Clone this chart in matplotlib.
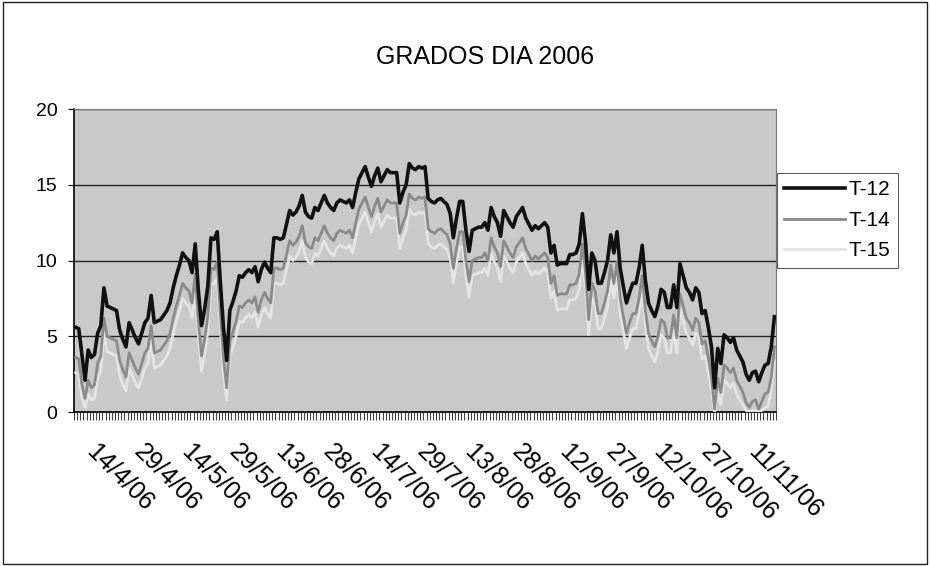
import numpy as np
import pandas as pd
import matplotlib
matplotlib.use("Agg")
import matplotlib.pyplot as plt
from matplotlib.patches import Rectangle
from matplotlib.transforms import ScaledTranslation

plt.rcParams['font.family'] = ['Liberation Sans', 'DejaVu Sans']

# daily degree-days (11/4/06 .. 20/11/06, one day missing in July)
t12 = [5.6, 5.5, 3.8, 2.1, 4.1, 3.6, 3.8, 5.2, 5.7, 8.2,
       7.0, 6.9, 6.8, 6.7, 5.4, 4.8, 4.3, 5.9, 5.4, 4.9,
       4.5, 5.2, 5.9, 6.2, 7.7, 5.9, 6.0, 6.1, 6.4, 6.7,
       7.2, 8.2, 9.0, 9.7, 10.5, 10.2, 10.0, 9.2, 11.1, 8.0,
       5.7, 6.8, 8.3, 11.5, 11.4, 11.9, 8.5, 5.5, 3.4, 6.7,
       7.3, 8.0, 9.0, 8.9, 9.2, 9.4, 9.2, 9.6, 8.6, 9.4,
       9.9, 9.5, 9.2, 11.5, 11.5, 11.4, 11.5, 12.4, 13.3, 13.0,
       13.2, 13.6, 14.3, 13.2, 12.9, 12.8, 13.5, 13.3, 13.8, 14.3,
       13.8, 13.5, 13.3, 13.8, 14.0, 13.9, 13.8, 14.0, 13.5, 14.5,
       15.4, 15.8, 16.2, 15.5, 14.9, 15.6, 16.1, 15.2, 15.6, 16.0,
       15.8, 15.8, 15.8, 13.8, 14.5, 15.0, 16.4, 16.1, 16.0,
       16.2, 16.1, 16.2, 14.1, 13.9, 13.8, 14.0, 14.1, 13.9, 13.7,
       13.1, 11.5, 12.8, 13.9, 13.9, 12.0, 10.6, 12.0, 12.1, 12.2,
       12.2, 12.5, 12.0, 13.5, 12.9, 12.5, 11.6, 13.3, 12.9, 12.5,
       12.2, 12.9, 13.2, 13.5, 12.8, 12.4, 12.0, 12.3, 12.1, 12.3,
       12.5, 12.2, 10.5, 11.0, 9.7, 9.8, 9.8, 9.8, 10.4, 10.4,
       10.5, 11.1, 13.1, 11.2, 8.1, 10.5, 10.0, 8.5, 8.5, 9.2,
       10.0, 11.7, 10.5, 11.9, 9.5, 8.3, 7.2, 7.9, 8.5, 8.5,
       9.5, 11.0, 8.7, 7.2, 6.7, 6.3, 7.0, 8.1, 7.9, 6.9,
       6.9, 8.4, 6.9, 9.8, 9.0, 8.2, 7.9, 7.4, 8.2,
       7.9, 6.5, 6.7, 5.6, 4.3, 1.6, 4.2, 3.2, 5.1, 4.9,
       4.6, 4.9, 4.1, 3.7, 3.3, 2.5, 2.1, 2.6, 2.7, 2.0,
       2.6, 3.1, 3.2, 4.3, 6.3]

t14 = [3.6, 3.5, 1.8, 0.9, 2.1, 1.6, 1.8, 3.2, 3.7, 6.2,
       5.0, 4.9, 4.8, 4.7, 3.4, 2.8, 2.3, 3.9, 3.4, 2.9,
       2.5, 3.2, 3.9, 4.2, 5.7, 3.9, 4.0, 4.1, 4.4, 4.7,
       5.2, 6.2, 7.0, 7.7, 8.5, 8.2, 8.0, 7.2, 9.1, 6.0,
       3.7, 4.8, 6.3, 9.5, 9.4, 9.9, 6.5, 3.5, 1.6, 4.7,
       5.3, 6.0, 7.0, 6.9, 7.2, 7.4, 7.2, 7.6, 6.6, 7.4,
       7.9, 7.5, 7.2, 9.5, 9.5, 9.4, 9.5, 10.4, 11.3, 11.0,
       11.2, 11.6, 12.3, 11.2, 10.9, 10.8, 11.5, 11.3, 11.8, 12.3,
       11.8, 11.5, 11.3, 11.8, 12.0, 11.9, 11.8, 12.0, 11.5, 12.5,
       13.4, 13.8, 14.2, 13.5, 12.9, 13.6, 14.1, 13.2, 13.6, 14.0,
       13.8, 13.8, 13.8, 11.8, 12.5, 13.0, 14.4, 14.1, 14.0,
       14.2, 14.1, 14.2, 12.1, 11.9, 11.8, 12.0, 12.1, 11.9, 11.7,
       11.1, 9.5, 10.8, 11.9, 11.9, 10.0, 8.6, 10.0, 10.1, 10.2,
       10.2, 10.5, 10.0, 11.5, 10.9, 10.5, 9.6, 11.3, 10.9, 10.5,
       10.2, 10.9, 11.2, 11.5, 10.8, 10.4, 10.0, 10.3, 10.1, 10.3,
       10.5, 10.2, 8.5, 9.0, 7.7, 7.8, 7.8, 7.8, 8.4, 8.4,
       8.5, 9.1, 11.1, 9.2, 6.1, 8.5, 8.0, 6.5, 6.5, 7.2,
       8.0, 9.7, 8.5, 9.9, 7.5, 6.3, 5.2, 5.9, 6.5, 6.5,
       7.5, 9.0, 6.7, 5.2, 4.7, 4.3, 5.0, 6.1, 5.9, 4.9,
       4.9, 6.4, 4.9, 7.8, 7.0, 6.2, 5.9, 5.4, 6.2,
       5.9, 4.5, 4.7, 3.6, 2.3, 0.2, 2.2, 1.3, 3.1, 2.9,
       2.6, 2.9, 2.1, 1.7, 1.3, 0.6, 0.3, 0.7, 0.8, 0.2,
       0.7, 1.2, 1.3, 2.3, 4.3]

t15 = [2.6, 2.5, 0.9, 0.3, 1.2, 0.8, 0.9, 2.2, 2.7, 5.2,
       4.0, 3.9, 3.8, 3.7, 2.4, 1.8, 1.4, 2.9, 2.4, 1.9,
       1.6, 2.2, 2.9, 3.2, 4.7, 2.9, 3.0, 3.1, 3.4, 3.7,
       4.2, 5.2, 6.0, 6.7, 7.5, 7.2, 7.0, 6.2, 8.1, 5.0,
       2.7, 3.8, 5.3, 8.5, 8.4, 8.9, 5.5, 2.5, 0.8, 3.7,
       4.3, 5.0, 6.0, 5.9, 6.2, 6.4, 6.2, 6.6, 5.6, 6.4,
       6.9, 6.5, 6.2, 8.5, 8.5, 8.4, 8.5, 9.4, 10.3, 10.0,
       10.2, 10.6, 11.3, 10.2, 9.9, 9.8, 10.5, 10.3, 10.8, 11.3,
       10.8, 10.5, 10.3, 10.8, 11.0, 10.9, 10.8, 11.0, 10.5, 11.5,
       12.4, 12.8, 13.2, 12.5, 11.9, 12.6, 13.1, 12.2, 12.6, 13.0,
       12.8, 12.8, 12.8, 10.8, 11.5, 12.0, 13.4, 13.1, 13.0,
       13.2, 13.1, 13.2, 11.1, 10.9, 10.8, 11.0, 11.1, 10.9, 10.7,
       10.1, 8.5, 9.8, 10.9, 10.9, 9.0, 7.6, 9.0, 9.1, 9.2,
       9.2, 9.5, 9.0, 10.5, 9.9, 9.5, 8.6, 10.3, 9.9, 9.5,
       9.2, 9.9, 10.2, 10.5, 9.8, 9.4, 9.0, 9.3, 9.1, 9.3,
       9.5, 9.2, 7.5, 8.0, 6.7, 6.8, 6.8, 6.8, 7.4, 7.4,
       7.5, 8.1, 10.1, 8.2, 5.1, 7.5, 7.0, 5.5, 5.5, 6.2,
       7.0, 8.7, 7.5, 8.9, 6.5, 5.3, 4.2, 4.9, 5.5, 5.5,
       6.5, 8.0, 5.7, 4.2, 3.7, 3.3, 4.0, 5.1, 4.9, 3.9,
       3.9, 5.4, 3.9, 6.8, 6.0, 5.2, 4.9, 4.4, 5.2,
       4.9, 3.5, 3.7, 2.6, 1.4, 0.0, 1.3, 0.5, 2.1, 1.9,
       1.6, 1.9, 1.2, 0.8, 0.5, 0.1, 0.0, 0.1, 0.1, 0.0,
       0.1, 0.3, 0.4, 1.4, 3.3]

dates = pd.date_range("2006-04-11", "2006-11-20")
dates = dates[dates != pd.Timestamp("2006-07-05")]
labels = ["%d/%d/%s" % (d.day, d.month, d.strftime("%y")) for d in dates]
n = len(dates)
x = np.arange(n)


def main():
    fig = plt.figure(figsize=(9.3, 5.66), dpi=100)
    ax = fig.add_axes([0.0796, 0.272, 0.7548, 0.5354])
    ax.set_facecolor('#c9c9c9')

    ax.plot(x[:len(t12)], t12, color='#111111', lw=2.6, label='T-12', zorder=5)
    ax.plot(x[:len(t14)], t14, color='#8a8a8a', lw=2.0, label='T-14', zorder=4)
    ax.plot(x[:len(t15)], t15, color='#e4e4e4', lw=2.0, label='T-15', zorder=3)

    ax.set_xlim(-0.5, n - 0.5)
    ax.set_ylim(0, 20)
    ax.set_yticks([0, 5, 10, 15, 20])
    ax.yaxis.grid(True, color='#222222', lw=1.0)
    ax.set_axisbelow(True)

    # category ticks between every day, labels every 15 days
    ax.set_xticks(np.arange(-0.5, n, 1.0), minor=True)
    idx = list(range(3, n, 15))
    ax.set_xticks(idx)
    ax.set_xticklabels([labels[i] for i in idx], rotation=-45, ha='left', va='top',
                       rotation_mode='anchor', fontsize=18)
    ax.tick_params(axis='x', which='major', length=0, pad=20)
    ax.tick_params(axis='x', which='minor', length=6, width=0.8, color='#444444')
    ax.tick_params(axis='y', length=4, labelsize=14, pad=8)
    shift = ScaledTranslation(0.14, 0, fig.dpi_scale_trans)
    for lab in ax.get_xticklabels():
        lab.set_transform(lab.get_transform() + shift)

    for s in ['top', 'right']:
        ax.spines[s].set_color('#777777')
        ax.spines[s].set_linewidth(0.8)
    ax.spines['left'].set_linewidth(1.2)
    ax.spines['bottom'].set_linewidth(1.2)

    fig.text(0.5215, 0.899, 'GRADOS DIA 2006', ha='center', va='center', fontsize=18)

    leg = ax.legend(loc='upper left', bbox_to_anchor=(0.8355, 0.694),
                    bbox_transform=fig.transFigure, fontsize=15, frameon=True,
                    fancybox=False, edgecolor='#333333', handlelength=2.9,
                    handletextpad=0.2, labelspacing=0.55, borderpad=0.35,
                    borderaxespad=0)
    leg.get_frame().set_linewidth(0.8)

    # chart area border
    fig.patches.append(Rectangle((0.003, 0.003), 0.994, 0.993, transform=fig.transFigure,
                                 fill=False, edgecolor='#222222', lw=1.0))

    fig.savefig('out.png', dpi=100)


if __name__ == '__main__':
    main()
